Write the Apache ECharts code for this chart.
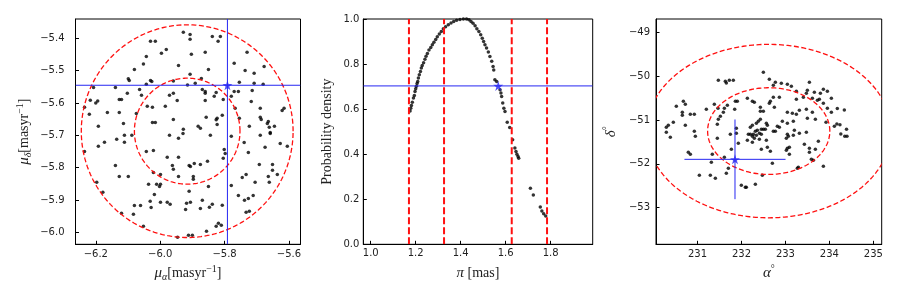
<!DOCTYPE html>
<html><head><meta charset="utf-8">
<script src="https://cdn.jsdelivr.net/npm/echarts@6/dist/echarts.min.js"></script>
<style>html,body{margin:0;padding:0;background:#fff}#c{width:900px;height:296px}</style>
</head><body><div id="c"></div>
<script>
// ---------- Panel 1: proper motion ----------
const pmPoints = [
[-5.928,-5.381],[-5.907,-5.388],[-6.030,-5.409],[-6.015,-5.409],[-5.907,-5.403],[-5.981,-5.434],[-5.996,-5.446],[-6.043,-5.456],[-6.052,-5.479],[-5.943,-5.484],[-6.080,-5.496],[-5.907,-5.511],[-6.099,-5.525],[-6.096,-5.530],[-6.030,-5.530],[-6.026,-5.533],[-5.959,-5.532],[-6.043,-5.542],[-5.915,-5.544],[-6.207,-5.552],[-6.139,-5.552],[-6.064,-5.558],[-6.102,-5.570],[-5.971,-5.576],[-5.959,-5.570],[-6.058,-5.576],[-6.217,-5.591],[-6.127,-5.589],[-6.120,-5.589],[-5.947,-5.592],[-6.194,-5.594],[-6.200,-5.600],[-6.040,-5.610],[-6.024,-5.613],[-5.984,-5.610],[-6.235,-5.613],[-6.164,-5.629],[-6.127,-5.629],[-6.220,-5.635],[-6.074,-5.632],[-5.959,-5.651],[-6.114,-5.663],[-6.024,-5.660],[-6.015,-5.660],[-6.192,-5.672],[-5.928,-5.681],[-5.929,-5.694],
[-5.838,-5.394],[-5.813,-5.394],[-5.820,-5.409],[-5.903,-5.449],[-5.860,-5.443],[-5.730,-5.443],[-5.770,-5.477],[-5.850,-5.496],[-5.736,-5.499],[-5.708,-5.508],[-5.677,-5.487],[-5.872,-5.524],[-5.891,-5.539],[-5.754,-5.536],[-5.708,-5.539],[-5.680,-5.542],[-5.869,-5.558],[-5.860,-5.564],[-5.860,-5.570],[-5.826,-5.567],[-5.770,-5.564],[-5.757,-5.564],[-5.714,-5.561],[-5.832,-5.579],[-5.779,-5.579],[-5.804,-5.589],[-5.860,-5.592],[-5.717,-5.595],[-5.767,-5.616],[-5.689,-5.616],[-5.621,-5.623],[-5.615,-5.616],[-5.857,-5.644],[-5.823,-5.647],[-5.826,-5.652],[-5.807,-5.638],[-5.754,-5.647],[-5.689,-5.644],[-5.686,-5.651],[-5.664,-5.657],[-5.667,-5.663],[-5.823,-5.666],[-5.882,-5.672],[-5.875,-5.678],[-5.723,-5.672],[-5.661,-5.675],[-5.645,-5.672],[-5.658,-5.691],
[-6.111,-5.700],[-6.088,-5.700],[-5.971,-5.700],[-5.943,-5.709],[-6.192,-5.734],[-6.173,-5.721],[-6.135,-5.712],[-6.111,-5.721],[-6.235,-5.750],[-6.043,-5.750],[-6.021,-5.747],[-5.978,-5.768],[-5.943,-5.768],[-5.962,-5.793],[-5.959,-5.805],[-5.910,-5.793],[-6.139,-5.793],[-6.127,-5.827],[-6.099,-5.827],[-6.021,-5.815],[-5.999,-5.821],[-5.943,-5.827],[-6.197,-5.845],[-6.036,-5.851],[-6.011,-5.851],[-5.999,-5.851],[-6.002,-5.858],[-6.178,-5.876],[-6.018,-5.883],[-5.910,-5.873],[-6.031,-5.904],[-5.999,-5.907],[-6.080,-5.917],[-6.061,-5.917],[-6.028,-5.923],[-5.978,-5.907],[-5.969,-5.913],[-5.918,-5.910],[-5.921,-5.929],[-6.120,-5.941],[-6.083,-5.944],[-6.052,-5.981],[-5.946,-6.015],[-5.912,-6.009],
[-5.844,-5.700],[-5.779,-5.703],[-5.689,-5.700],[-5.658,-5.694],[-5.739,-5.722],[-5.674,-5.737],[-5.627,-5.725],[-5.605,-5.734],[-5.801,-5.744],[-5.798,-5.756],[-5.804,-5.771],[-5.726,-5.753],[-5.853,-5.780],[-5.906,-5.796],[-5.894,-5.787],[-5.875,-5.790],[-5.692,-5.790],[-5.651,-5.790],[-5.651,-5.808],[-5.897,-5.827],[-5.897,-5.836],[-5.745,-5.830],[-5.733,-5.821],[-5.664,-5.827],[-5.636,-5.821],[-5.705,-5.845],[-5.661,-5.845],[-5.850,-5.858],[-5.779,-5.855],[-5.757,-5.886],[-5.726,-5.895],[-5.711,-5.886],[-5.738,-5.901],[-5.906,-5.907],[-5.869,-5.901],[-5.875,-5.926],[-5.847,-5.922],[-5.838,-5.913],[-5.807,-5.916],[-5.733,-5.938],[-5.723,-5.935],[-5.819,-5.972],[-5.826,-5.981],[-5.810,-5.978],[-5.856,-5.997],[-5.900,-6.009]
];
const pmCenter = [-5.916, -5.687];
const pmRadii = [0.164, 0.329];
const pmStar = [-5.791, -5.545];
const pmRange = {xmin:-6.263, xmax:-5.564, ymin:-6.037, ymax:-5.340};
const pmRATicks = [-6.2,-6.0,-5.8,-5.6];
const pmDecTicks = [-6.0,-5.9,-5.8,-5.7,-5.6,-5.5,-5.4];

// ---------- Panel 2: parallax probability density ----------
const plxX = [1.175,1.178,1.181,1.185,1.190,1.194,1.197,1.200,1.203,1.206,1.209,1.212,1.216,1.221,1.225,1.229,1.235,1.241,1.246,1.252,1.259,1.267,1.274,1.281,1.289,1.296,1.305,1.314,1.323,1.333,1.345,1.357,1.369,1.382,1.397,1.412,1.426,1.437,1.446,1.455,1.464,1.472,1.481,1.489,1.496,1.502,1.508,1.515,1.523,1.530,1.538,1.544,1.547,1.552,1.560,1.575,1.579,1.582,1.587,1.592,1.597,1.607,1.618,1.631,1.641,1.646,1.650,1.655,1.658,1.710,1.723,1.754,1.761,1.769,1.778];
const plxY = [0.592,0.604,0.616,0.631,0.649,0.660,0.678,0.690,0.702,0.714,0.723,0.738,0.752,0.767,0.782,0.794,0.806,0.821,0.835,0.847,0.862,0.874,0.886,0.897,0.909,0.921,0.933,0.945,0.957,0.966,0.975,0.982,0.989,0.995,0.998,1.000,1.000,0.997,0.989,0.981,0.970,0.957,0.945,0.930,0.915,0.900,0.886,0.871,0.853,0.834,0.812,0.789,0.774,0.730,0.723,0.686,0.671,0.656,0.627,0.604,0.589,0.542,0.518,0.464,0.427,0.412,0.400,0.390,0.382,0.249,0.219,0.166,0.148,0.136,0.126];
const plxLines = [1.170, 1.326, 1.627, 1.784];
const plxStar = [1.567, 0.703];
const plxRange = {xmin:0.967, xmax:1.987, ymin:0, ymax:1};
const plxTicks = [1.0,1.2,1.4,1.6,1.8];
const densTicks = [0,0.2,0.4,0.6,0.8,1.0];

// ---------- Panel 3: sky position ----------
const posPoints = [
[231.474,-50.094],[231.633,-50.117],[231.656,-50.155],[231.724,-50.094],[231.815,-50.094],[230.518,-50.688],[230.678,-50.574],[230.723,-50.642],[230.655,-50.825],[230.655,-50.893],[230.837,-50.871],[230.928,-50.871],[231.201,-50.756],[231.383,-50.642],[231.466,-50.734],[231.679,-50.665],[231.611,-50.734],[231.588,-50.825],[231.861,-50.574],[231.906,-50.574],[231.846,-50.756],[231.520,-50.916],[231.474,-50.985],[231.451,-51.099],[230.450,-51.053],[230.336,-51.122],[230.291,-51.167],[230.723,-51.122],[231.884,-51.190],[230.291,-51.282],[230.928,-51.259],[230.951,-51.373],[230.382,-51.396],[231.451,-51.419],[231.747,-51.327],[231.884,-51.304],[231.929,-51.533],[231.770,-51.670],[230.791,-51.738],[230.837,-51.784],[231.337,-51.784],[231.611,-51.852],[231.315,-51.967],[231.702,-52.104],[231.656,-52.218],[231.042,-52.263],[231.292,-52.263],[231.406,-52.332],[231.997,-52.492],[232.088,-52.537],
[232.498,-49.912],[232.634,-50.071],[232.771,-50.140],[232.725,-50.208],[232.907,-50.163],[233.044,-50.186],[233.135,-50.231],[233.545,-50.140],[233.499,-50.323],[233.249,-50.345],[233.476,-50.391],[233.658,-50.368],[233.795,-50.391],[233.863,-50.300],[233.954,-50.345],[232.134,-50.505],[232.248,-50.574],[232.293,-50.597],[232.430,-50.711],[232.430,-50.802],[232.498,-50.802],[232.634,-50.619],[232.725,-50.482],[232.862,-50.482],[232.657,-50.574],[232.748,-50.711],[233.249,-50.528],[233.408,-50.482],[233.613,-50.505],[233.727,-50.551],[233.772,-50.528],[234.045,-50.505],[233.863,-50.619],[233.954,-50.734],[234.045,-50.825],[233.044,-50.825],[233.158,-50.848],[233.249,-50.871],[233.317,-50.779],[233.476,-50.756],[233.613,-50.825],[233.499,-50.962],[233.681,-50.985],[233.924,-51.053],[234.113,-51.144],
[232.202,-51.167],[232.248,-51.122],[232.339,-51.076],[232.384,-51.030],[232.430,-50.985],[232.566,-51.076],[232.589,-51.122],[232.452,-51.213],[232.498,-51.213],[232.543,-51.213],[232.361,-51.236],[232.316,-51.259],[232.270,-51.327],[232.202,-51.327],[232.157,-51.327],[232.248,-51.373],[232.339,-51.350],[232.407,-51.304],[232.452,-51.327],[232.293,-51.419],[232.407,-51.441],[232.134,-51.464],[232.248,-51.510],[232.566,-51.464],[232.725,-51.259],[232.771,-51.259],[232.816,-51.144],[232.862,-51.167],[232.930,-51.030],[233.044,-51.076],[233.180,-51.030],[233.203,-51.236],[233.044,-51.327],[233.021,-51.419],[233.067,-51.373],[233.180,-51.350],[233.317,-51.304],[233.476,-51.281],[233.431,-51.555],[233.545,-51.647],[233.545,-51.738],[233.590,-51.898],[233.636,-51.921],[233.681,-51.670],[233.749,-51.487],[233.044,-51.647],[233.090,-51.624],[233.021,-51.692],[233.090,-51.784],[232.657,-51.715],[232.452,-51.670],[232.589,-51.624],[233.294,-52.080],[233.271,-52.103],[233.863,-52.058],[232.703,-51.989],[232.475,-52.263],[232.316,-52.469],[232.111,-52.537],
[234.39,-51.21],[234.35,-51.37],[234.40,-51.37],[234.34,-50.77],[234.18,-50.74],[234.24,-51.11],[234.17,-51.09],[234.26,-51.32]
];
const posCenter = [232.62, -51.253];
const posSemiAxes = [[1.39, 0.99],[2.78, 1.98]];
const posStar = [231.853, -51.898];
const posErr = [1.15, 0.91];
const posRange = {xmin:230.056, xmax:235.19, ymin:-53.838, ymax:-48.694};
const raTicks = [231,232,233,234,235];
const decTicks = [-53,-52,-51,-50,-49];

// ---------- styling helpers ----------
const SERIF = 'Liberation Serif';
const rich = {
  it:{fontFamily:SERIF, fontStyle:'italic', fontSize:15, color:'#222', lineHeight:18},
  n:{fontFamily:SERIF, fontSize:14, color:'#222', lineHeight:18},
  sub:{fontFamily:SERIF, fontStyle:'italic', fontSize:10, color:'#222', verticalAlign:'bottom'},
  sup:{fontFamily:SERIF, fontSize:10, color:'#222', verticalAlign:'top'}
};
const fmt = d => v => Number(v).toFixed(d).replace('-', '\u2212');
const STAR = 'path://M50,0 L61,35 L98,35 L68,57 L79,91 L50,70 L21,91 L32,57 L2,35 L39,35 Z';
const BLUE = '#2626f2';
const RED = '#ff1010';

function axis(kind, gi, r, ticks, dec, margin, name, gap) {
  const isX = kind === 'x';
  return {
    type:'value', gridIndex:gi,
    min: isX ? r.xmin : r.ymin, max: isX ? r.xmax : r.ymax,
    axisLine:{show:true, onZero:false, lineStyle:{color:'#000', width:1}},
    axisTick:{show:true, inside:true, length:3.5, customValues:ticks, lineStyle:{color:'#000', width:1}},
    axisLabel:{customValues:ticks, formatter:fmt(dec), margin:margin, fontSize:10, fontFamily:'DejaVu Sans', color:'#222'},
    splitLine:{show:false},
    name:name, nameLocation:'middle', nameGap:gap,
    nameTextStyle:{rich:rich, fontFamily:SERIF, fontSize:14, color:'#222'}
  };
}

function clipOf(params){
  const cs = params.coordSys;
  return {type:'rect', shape:{x:cs.x, y:cs.y, width:cs.width, height:cs.height}};
}

function ellipseSeries(xi, yi, data) {
  return {
    type:'custom', xAxisIndex:xi, yAxisIndex:yi, silent:true, z:3,
    data:data,
    renderItem:function(params, api){
      const cx = api.value(0), cy = api.value(1), rx = api.value(2), ry = api.value(3);
      const pts = [];
      for (let k = 0; k <= 240; k++) {
        const t = 2*Math.PI*k/240;
        pts.push(api.coord([cx + rx*Math.cos(t), cy + ry*Math.sin(t)]));
      }
      return {type:'group', children:[{
        type:'polyline', shape:{points:pts},
        style:{stroke:RED, fill:null, lineWidth:1.3, lineDash:[5,2.5]}
      }], clipPath:clipOf(params)};
    }
  };
}

// segments given as [x1, y1, x2, y2] in data units
function segmentSeries(xi, yi, segs, color, width, dash, z) {
  return {
    type:'custom', xAxisIndex:xi, yAxisIndex:yi, silent:true, z:z,
    data:segs,
    renderItem:function(params, api){
      const p1 = api.coord([api.value(0), api.value(1)]);
      const p2 = api.coord([api.value(2), api.value(3)]);
      return {type:'group', children:[{
        type:'line', shape:{x1:p1[0], y1:p1[1], x2:p2[0], y2:p2[1]},
        style:{stroke:color, lineWidth:width, lineDash:dash || null}
      }], clipPath:clipOf(params)};
    }
  };
}

const chart = echarts.init(document.getElementById('c'), null, {renderer:'canvas'});
const option = {
  animation:false,
  backgroundColor:'#fff',
  grid:[
    {left:75.5, top:19, width:225, height:225.3, show:true, borderColor:'#000', borderWidth:1, backgroundColor:'transparent'},
    {left:363.3, top:19, width:229.4, height:225.3, show:true, borderColor:'#000', borderWidth:1, backgroundColor:'transparent'},
    {left:656, top:19, width:225.7, height:225.3, show:true, borderColor:'#000', borderWidth:1, backgroundColor:'transparent'}
  ],
  xAxis:[
    axis('x',0,pmRange,pmRATicks,1,5,'{it|μ}{sub|α}{n|[masyr}{sup|−1}{n|]}',20),
    axis('x',1,plxRange,plxTicks,1,4,'{it|π}{n| [mas]}',20),
    axis('x',2,posRange,raTicks,0,5,'{it|α}{sup|°}',20)
  ],
  yAxis:[
    axis('y',0,pmRange,pmDecTicks,1,11,'{it|μ}{sub|δ}{n|[masyr}{sup|−1}{n|]}',42),
    axis('y',1,plxRange,densTicks,1,4,'{n|Probability density}',27),
    axis('y',2,posRange,decTicks,0,6,'{it|δ}{sup|°}',36)
  ],
  series:[
    // panel 1
    {type:'scatter', xAxisIndex:0, yAxisIndex:0, data:pmPoints, symbolSize:3.5, itemStyle:{color:'#000'}, silent:true, z:2},
    ellipseSeries(0,0,pmRadii.map(r=>[pmCenter[0],pmCenter[1],r,r])),
    segmentSeries(0,0,[
      [pmStar[0], pmRange.ymin, pmStar[0], pmRange.ymax],
      [pmRange.xmin, pmStar[1], pmRange.xmax, pmStar[1]]
    ], BLUE, 1, null, 4),
    {type:'scatter', xAxisIndex:0, yAxisIndex:0, data:[pmStar], symbol:STAR, symbolSize:10, itemStyle:{color:BLUE}, z:5, silent:true},

    // panel 2
    {type:'scatter', xAxisIndex:1, yAxisIndex:1, data:plxX.map((x,i)=>[x,plxY[i]]), symbolSize:3.5, itemStyle:{color:'#000'}, silent:true, z:2},
    segmentSeries(1,1, plxLines.map(v=>[v, plxRange.ymin, v, plxRange.ymax]), RED, 2, [7,3], 3),
    segmentSeries(1,1, [[plxRange.xmin, plxStar[1], plxRange.xmax, plxStar[1]]], BLUE, 1, null, 4),
    {type:'scatter', xAxisIndex:1, yAxisIndex:1, data:[plxStar], symbol:STAR, symbolSize:10, itemStyle:{color:BLUE}, z:5, silent:true},

    // panel 3
    {type:'scatter', xAxisIndex:2, yAxisIndex:2, data:posPoints, symbolSize:3.5, itemStyle:{color:'#000'}, silent:true, z:2},
    ellipseSeries(2,2,posSemiAxes.map(s=>[posCenter[0],posCenter[1],s[0],s[1]])),
    segmentSeries(2,2,[
      [posStar[0]-posErr[0], posStar[1], posStar[0]+posErr[0], posStar[1]],
      [posStar[0], posStar[1]-posErr[1], posStar[0], posStar[1]+posErr[1]]
    ], BLUE, 1, null, 4),
    {type:'scatter', xAxisIndex:2, yAxisIndex:2, data:[posStar], symbol:STAR, symbolSize:10, itemStyle:{color:BLUE}, z:5, silent:true}
  ]
};
chart.setOption(option);
</script>
</body></html>
